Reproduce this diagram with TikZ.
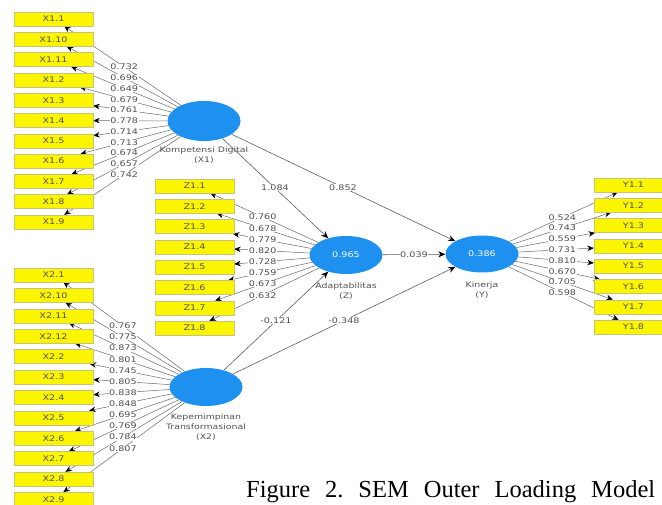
\documentclass[tikz,border=0pt]{standalone}
\usepackage{fontspec}
\setmainfont{Liberation Serif}
\newfontfamily\plsfont[FakeStretch=1.25]{DejaVu Sans}
\usetikzlibrary{arrows.meta,calc,backgrounds,shapes.geometric}

\definecolor{indyellow}{RGB}{252,245,0}
\definecolor{indedge}{RGB}{200,195,120}
\definecolor{lvblue}{RGB}{30,144,240}
\definecolor{pathgray}{RGB}{105,105,105}
\definecolor{txtgray}{RGB}{80,80,80}

\tikzset{
  indicator/.style={rectangle, fill=indyellow, draw=indedge, line width=0.4pt,
    minimum width=79pt, minimum height=14pt, inner sep=0pt,
    font=\plsfont\fontsize{7.7}{8}\selectfont, text=txtgray},
  latent/.style={ellipse, fill=lvblue, draw=none, minimum width=73pt,
    minimum height=38pt, inner sep=0pt,
    font=\plsfont\fontsize{7.7}{8}\selectfont, text=white},
  loading/.style={draw=pathgray, line width=0.5pt,
    -{Stealth[length=6.5pt,width=5.5pt,color=black]}},
  structural/.style={draw=pathgray!90!black, line width=0.6pt,
    -{Stealth[length=7pt,width=6pt,color=black]}},
  coef/.style={fill=white, inner sep=0.5pt,
    font=\plsfont\fontsize{7.7}{8}\selectfont, text=txtgray},
  lvname/.style={align=center, inner sep=0pt,
    font=\plsfont\fontsize{7.5}{9.8}\selectfont, text=txtgray},
}

\begin{document}
\begin{tikzpicture}[x=1pt,y=-1pt]
\useasboundingbox (0,0) rectangle (662,505);
\clip (0,0) rectangle (662,505);

% latent variables
\node[latent, minimum height=40pt] (X1) at (204,121) {};
\node[latent] (Z)  at (346,255) {0.965};
\node[latent, minimum height=37pt] (Y)  at (482,254) {0.386};
\node[latent] (X2) at (206,387) {};

\node[lvname, anchor=north] (X1name) at (204,147) {Kompetensi Digital\\(X1)};
\node[lvname, anchor=north] (Zname)  at (346,283) {Adaptabilitas\\(Z)};
\node[lvname, anchor=north] (Yname)  at (482,282) {Kinerja\\(Y)};
\node[lvname, anchor=north] (X2name) at (206,414) {Kepemimpinan\\Transformasional\\(X2)};

% indicator blocks
\foreach \lab [count=\i from 0] in {1,10,11,2,3,4,5,6,7,8,9}
  \node[indicator] (xa\i) at (53.5,19+20.3*\i) {X1.\lab};
\foreach \lab [count=\i from 0] in {1,2,3,4,5,6,7,8}
  \node[indicator] (za\i) at (194.5,186+20.3*\i) {Z1.\lab};
\foreach \lab [count=\i from 0] in {1,2,3,4,5,6,7,8}
  \node[indicator] (ya\i) at (633.5,185+20.3*\i) {Y1.\lab};
\foreach \lab [count=\i from 0] in {1,10,11,12,2,3,4,5,6,7,8,9}
  \node[indicator] (xb\i) at (53.5,275+20.4*\i) {X2.\lab};

% connectors, kept under the blocks
\begin{pgfonlayer}{background}
  \foreach \i in {0,...,10} \draw[loading] (X1) -- (xa\i);
  \foreach \i in {0,...,7}  \draw[loading] (Z) -- (za\i);
  \foreach \i in {0,...,7}  \draw[loading] (Y) -- (ya\i);
  \foreach \i in {0,...,11} \draw[loading] (X2) -- (xb\i);
  \draw[structural] (X1) -- (Z);
  \draw[structural] (X1) -- (Y);
  \draw[structural] (Z) -- (Y);
  \draw[structural] (X2) -- (Z);
  \draw[structural] (X2) -- (Y);
\end{pgfonlayer}

% outer loadings
\foreach \val [count=\i from 0] in {0.732,0.696,0.649,0.679,0.761,0.778,0.714,0.713,0.674,0.657,0.742}
  \node[coef] at ($(X1)!0.53!(xa\i)$) {\val};
\foreach \val [count=\i from 0] in {0.760,0.678,0.779,0.820,0.728,0.759,0.673,0.632}
  \node[coef] at ($(Z)!0.55!(za\i)$) {\val};
\foreach \val [count=\i from 0] in {0.524,0.743,0.559,0.731,0.810,0.670,0.705,0.598}
  \node[coef] at ($(Y)!0.53!(ya\i)$) {\val};
\foreach \val [count=\i from 0] in {0.767,0.775,0.873,0.801,0.745,0.805,0.838,0.848,0.695,0.769,0.784,0.807}
  \node[coef] at ($(X2)!0.545!(xb\i)$) {\val};

% path coefficients
\node[coef] at ($(X1)!0.5!(Z)$) {1.084};
\node[coef] at ($(X1)!0.5!(Y)$) {0.852};
\node[coef] at ($(Z)!0.5!(Y)$) {0.039};
\node[coef] at ($(X2)!0.5!(Z)$) {-0.121};
\node[coef] at ($(X2)!0.5!(Y)$) {-0.348};

% caption
\node[anchor=base west, inner sep=0pt, font=\fontsize{24.5}{24.5}\selectfont]
  (caption) at (246,497)
  {\hbox to 409pt{Figure\hfill 2.\hfill SEM\hfill Outer\hfill Loading\hfill Model}};
\end{tikzpicture}
\end{document}
